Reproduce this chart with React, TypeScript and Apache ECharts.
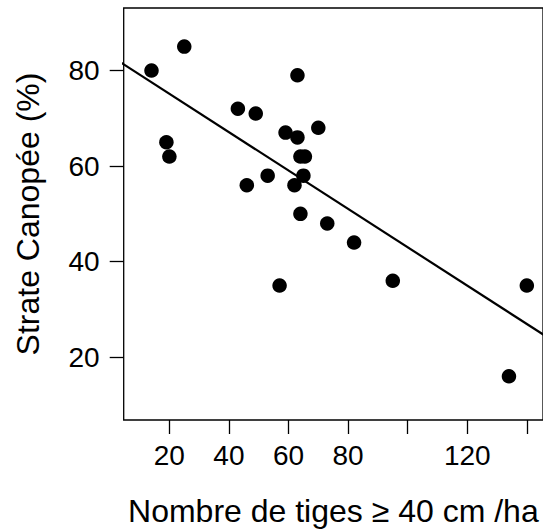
import React, { useEffect, useRef } from "react";
import * as echarts from "echarts";

const stemsPerHa = [14, 25, 63, 43, 49, 59, 63, 70, 19, 20, 64, 65.5, 53, 46, 62, 65, 64, 73, 82, 57, 95, 140, 134];
const canopyPct = [80, 85, 79, 72, 71, 67, 66, 68, 65, 62, 62, 62, 58, 56, 56, 58, 50, 48, 44, 35, 36, 35, 16];
const fitIntercept = 83.15;
const fitSlope = -0.4014;
const fitXRange = [0, 150];
const xTicks = [20, 40, 60, 80, 100, 120, 140];
const xTickLabels = [20, 40, 60, 80, 120];
const yTicks = [20, 40, 60, 80];

const FONT = "Liberation Sans, Arial, sans-serif";

export default function App() {
  const ref = useRef<HTMLDivElement>(null);
  useEffect(() => {
    document.body.style.margin = "0";
    const chart = echarts.init(ref.current!, null, { renderer: "svg" });
    const points = stemsPerHa.map((x, i) => [x, canopyPct[i]]);
    const fitLine = fitXRange.map((x) => [x, fitIntercept + fitSlope * x]);
    chart.setOption({
      animation: false,
      backgroundColor: "#fff",
      grid: {
        left: 123.7,
        top: 8,
        right: -3,
        bottom: 106.7,
        show: true,
        borderColor: "#000",
        borderWidth: 1.3,
        backgroundColor: "transparent",
      },
      xAxis: {
        type: "value",
        min: 4.67,
        max: 145.43,
        splitLine: { show: false },
        axisLine: { show: false },
        axisTick: {
          show: true,
          length: 14,
          inside: false,
          customValues: xTicks,
          lineStyle: { color: "#000", width: 1.3 },
        },
        axisLabel: {
          customValues: xTickLabels,
          margin: 21,
          fontSize: 28,
          color: "#000",
          fontFamily: FONT,
        },
        name: "Nombre de tiges ≥ 40 cm /ha",
        nameLocation: "middle",
        nameGap: 75,
        nameTextStyle: { fontSize: 32, color: "#000", fontFamily: FONT },
      },
      yAxis: {
        type: "value",
        min: 6.86,
        max: 93.08,
        splitLine: { show: false },
        axisLine: { show: false },
        axisTick: {
          show: true,
          length: 14,
          inside: false,
          customValues: yTicks,
          lineStyle: { color: "#000", width: 1.3 },
        },
        axisLabel: {
          customValues: yTicks,
          margin: 24,
          fontSize: 28,
          color: "#000",
          fontFamily: FONT,
        },
        name: "Strate Canopée (%)",
        nameLocation: "middle",
        nameGap: 80,
        nameTextStyle: { fontSize: 32, color: "#000", fontFamily: FONT },
      },
      series: [
        {
          type: "line",
          data: fitLine,
          showSymbol: false,
          symbol: "none",
          clip: true,
          lineStyle: { color: "#000", width: 2.2 },
          z: 2,
        },
        {
          type: "scatter",
          data: points,
          symbol: "circle",
          symbolSize: 14.5,
          itemStyle: { color: "#000", opacity: 1 },
          z: 3,
        },
      ],
    });
    return () => chart.dispose();
  }, []);
  return <div ref={ref} style={{ width: 543, height: 532 }} />;
}
